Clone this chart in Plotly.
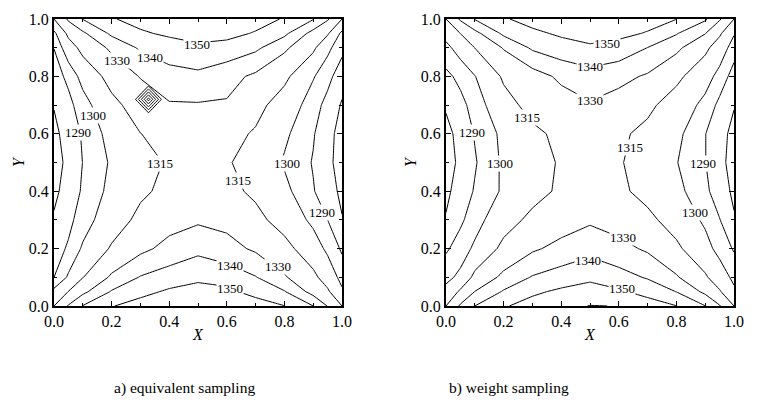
import plotly.graph_objects as go

# grid coordinates (non-uniform, denser near edges)
xs = [0, 0.05, 0.1, 0.2, 0.3, 0.4, 0.5, 0.6, 0.7, 0.8, 0.9, 0.95, 1.0]
ys = [0, 0.05, 0.1, 0.2, 0.3, 0.4, 0.5, 0.6, 0.7, 0.8, 0.9, 0.95, 1.0]

# a) equivalent sampling - temperature field, rows = ys (bottom to top)
z_equiv = [
    [1315, 1331.2, 1340.4, 1349.5, 1354, 1357, 1358.5, 1357.5, 1355, 1350.2, 1340, 1329.6, 1315],
    [1303, 1315.3, 1327.5, 1340.8, 1347, 1351.5, 1354, 1352.3, 1346.5, 1340.6, 1326.3, 1317.2, 1302],
    [1290, 1301.6, 1314.5, 1332.2, 1340.6, 1344.5, 1347.7, 1346, 1340.5, 1331.4, 1318.4, 1308.4, 1296],
    [1285.5, 1291.3, 1301.6, 1316.6, 1327.4, 1333.2, 1337.4, 1333.5, 1328.4, 1319.5, 1306.5, 1297.4, 1288.5],
    [1281, 1287.3, 1294.7, 1307.9, 1318.5, 1326, 1328.5, 1327, 1318.8, 1309.4, 1297.1, 1290, 1280.5],
    [1278, 1283.6, 1291.4, 1303.3, 1312.6, 1318.6, 1323.5, 1318.6, 1312.5, 1303.1, 1290.7, 1284, 1278],
    [1276, 1282.4, 1290.2, 1301.5, 1310.1, 1316.5, 1318, 1316.2, 1309.7, 1298.8, 1289.3, 1282.4, 1276],
    [1277.5, 1284.1, 1291.1, 1304.4, 1314.8, 1319.5, 1322, 1319.5, 1313.5, 1302.2, 1290.9, 1282.6, 1277],
    [1280.5, 1287.1, 1295.2, 1310.9, 1322, 1329, 1329.2, 1329, 1319.5, 1308.1, 1294.4, 1286.6, 1279],
    [1285.5, 1292.4, 1304.2, 1320.5, 1330.7, 1336.6, 1337.7, 1333.4, 1328.1, 1318.4, 1300.9, 1293.3, 1284],
    [1290.2, 1307.7, 1319.6, 1332.5, 1341.4, 1345, 1348, 1346.5, 1342, 1332.6, 1317.9, 1302.8, 1293],
    [1297, 1318.7, 1328.3, 1341.9, 1348.6, 1351.8, 1354, 1353, 1349.2, 1342.2, 1326.5, 1316.8, 1297],
    [1315, 1332, 1340.3, 1349.2, 1353.5, 1356.5, 1358, 1357, 1354, 1349.2, 1340.6, 1331.5, 1315],
]

# b) weight sampling
z_weight = [
    [1315, 1332, 1340, 1349, 1354, 1357, 1360.3, 1359.8, 1355, 1350.2, 1340.2, 1331, 1315],
    [1303.5, 1317.5, 1330.2, 1340.9, 1348.1, 1351.9, 1354, 1351.5, 1346.5, 1339.8, 1327.7, 1316.4, 1302.5],
    [1297, 1302.6, 1318.9, 1333.3, 1340.7, 1344.4, 1348, 1343.7, 1339.1, 1331.4, 1316.9, 1307, 1297],
    [1288.5, 1294.6, 1302.1, 1318.8, 1328.5, 1333, 1336.6, 1333.1, 1328.5, 1317.7, 1304.5, 1295.9, 1289],
    [1280.7, 1288.1, 1295.3, 1308.9, 1318.5, 1325, 1328.5, 1325.5, 1318.2, 1309.2, 1297.8, 1290.4, 1281],
    [1278, 1284, 1290.9, 1301.7, 1310, 1317.4, 1323.4, 1317.6, 1310.9, 1303.4, 1292.1, 1285, 1278],
    [1276, 1282, 1289, 1302, 1311, 1316, 1318, 1316, 1310, 1300.5, 1290.3, 1283, 1276],
    [1277.5, 1282.7, 1290.7, 1302.8, 1312.2, 1318, 1321, 1317.3, 1311.6, 1303, 1290.3, 1283.1, 1277.5],
    [1281, 1287, 1293.8, 1310, 1319.5, 1325.5, 1329, 1326, 1318, 1308.4, 1296.5, 1287.4, 1280.5],
    [1287.5, 1292.7, 1299.5, 1317, 1325.6, 1332, 1336, 1332.8, 1328.8, 1318.4, 1305.3, 1296, 1285.8],
    [1297, 1305, 1315.2, 1331, 1341.5, 1346, 1348.5, 1346.5, 1339.9, 1333.1, 1318.4, 1307.4, 1294.5],
    [1304, 1315.2, 1327, 1342, 1348, 1351.5, 1354, 1352.5, 1349.3, 1340.7, 1330.5, 1317.3, 1301],
    [1315, 1332, 1340.5, 1349, 1353.5, 1356.5, 1358, 1356.5, 1353.8, 1350.2, 1341.4, 1331.5, 1315],
]

# local hot spot (sampling artefact) in panel a
spot_x = [0.278, 0.328, 0.378]
spot_y = [0.668, 0.720, 0.772]
spot_z = [
    [1325, 1325, 1325],
    [1325, 1375, 1325],
    [1325, 1325, 1325],
]
spot_levels = [1330, 1370, 10]  # start, end, step

levels = [1280, 1290, 1300, 1315, 1330, 1340, 1350, 1360]

# contour labels (value, x, y) as printed on each panel
lab_a_text = ["1350", "1340", "1330", "1300", "1290", "1315", "1315", "1300", "1290", "1340", "1330", "1350"]
lab_a_x = [0.495, 0.333, 0.22, 0.137, 0.084, 0.368, 0.64, 0.808, 0.929, 0.611, 0.779, 0.611]
lab_a_y = [0.912, 0.866, 0.857, 0.663, 0.605, 0.495, 0.4375, 0.495, 0.327, 0.142, 0.137, 0.061]

lab_b_text = ["1350", "1340", "1330", "1315", "1290", "1300", "1315", "1290", "1300", "1330", "1340", "1350"]
lab_b_x = [0.558, 0.5, 0.5, 0.28, 0.089, 0.1875, 0.639, 0.893, 0.865, 0.613, 0.494, 0.61]
lab_b_y = [0.914, 0.833, 0.715, 0.657, 0.605, 0.495, 0.553, 0.495, 0.327, 0.238, 0.16, 0.061]

captions = ["a) equivalent sampling", "b) weight sampling"]

FONT = "Liberation Serif, Times New Roman, Times, DejaVu Serif, serif"

fig = go.Figure()


def add_panel(z, xa, ya):
    for lv in levels:
        fig.add_trace(go.Contour(
            x=xs, y=ys, z=z, xaxis=xa, yaxis=ya,
            autocontour=False,
            contours=dict(start=lv, end=lv + 0.5, size=1, coloring="none", showlabels=False),
            line=dict(color="black", width=1, smoothing=0),
            showscale=False, hoverinfo="skip",
        ))


add_panel(z_equiv, "x", "y")
add_panel(z_weight, "x2", "y2")

fig.add_trace(go.Contour(
    x=spot_x, y=spot_y, z=spot_z, xaxis="x", yaxis="y",
    autocontour=False,
    contours=dict(start=spot_levels[0], end=spot_levels[1], size=spot_levels[2],
                  coloring="none", showlabels=False),
    line=dict(color="black", width=1, smoothing=0),
    showscale=False, hoverinfo="skip",
))


def add_labels(texts, lx, ly, xr, yr):
    for t, x, y in zip(texts, lx, ly):
        fig.add_annotation(x=x, y=y, xref=xr, yref=yr, text=t, showarrow=False,
                           bgcolor="white", borderpad=0,
                           font=dict(family=FONT, size=13, color="black"))


add_labels(lab_a_text, lab_a_x, lab_a_y, "x", "y")
add_labels(lab_b_text, lab_b_x, lab_b_y, "x2", "y2")

axis_common = dict(
    range=[0, 1], tick0=0, dtick=0.2, tickformat=".1f",
    ticks="inside", ticklen=5, tickwidth=1, tickcolor="black",
    showline=True, linewidth=2, linecolor="black", mirror="allticks",
    showgrid=False, zeroline=False, automargin=False,
    tickfont=dict(family=FONT, size=16, color="black"),
    minor=dict(dtick=0.1, ticks="inside", ticklen=3, tickcolor="black", showgrid=False),
)

title_font = dict(family=FONT, size=16, color="black")
# page body adds an 8px offset; domains are set so the frame lands where the reference has it
ydom = [109 / 407, 396 / 407]
fig.update_layout(
    width=766, height=407,
    margin=dict(l=0, r=0, t=0, b=0, autoexpand=False),
    paper_bgcolor="white", plot_bgcolor="white",
    showlegend=False,
    xaxis=dict(domain=[46 / 766, 334 / 766], anchor="y",
               title=dict(text="<i>X</i>", font=title_font, standoff=0), **axis_common),
    yaxis=dict(domain=ydom, anchor="x",
               title=dict(text="<i>Y</i>", font=title_font, standoff=0), **axis_common),
    xaxis2=dict(domain=[438 / 766, 726 / 766], anchor="y2",
                title=dict(text="<i>X</i>", font=title_font, standoff=0), **axis_common),
    yaxis2=dict(domain=ydom, anchor="x2",
                title=dict(text="<i>Y</i>", font=title_font, standoff=0), **axis_common),
)

for cx, txt in zip([176 / 766, 501 / 766], captions):
    fig.add_annotation(x=cx, y=27 / 407, xref="paper", yref="paper",
                       text=txt, showarrow=False,
                       font=dict(family=FONT, size=15.5, color="black"),
                       xanchor="center", yanchor="middle")

fig.write_html("out.html")
